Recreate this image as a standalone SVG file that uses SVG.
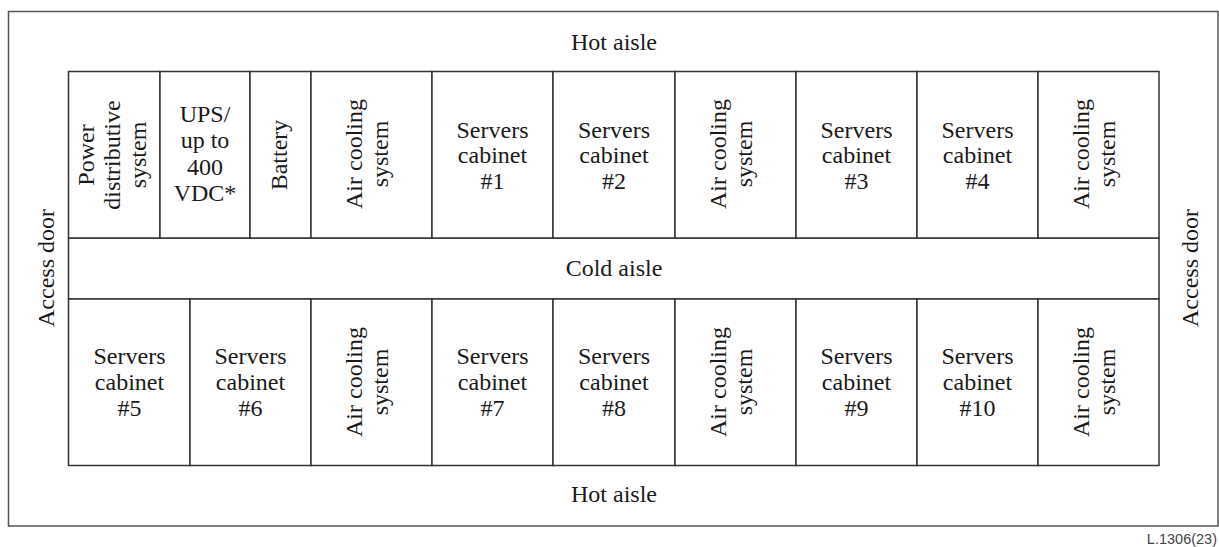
<svg xmlns="http://www.w3.org/2000/svg" width="1219" height="547" viewBox="0 0 1219 547">
<style>
.box{fill:#fff;stroke:#333;stroke-width:1.5}
.ln{stroke:#333;stroke-width:1.5;fill:none}
text{font-family:"Liberation Serif","Times New Roman",serif;font-size:24px;fill:#1a1a1a;text-anchor:middle}
.ref{font-family:"Liberation Sans",Arial,sans-serif;font-size:14.5px;fill:#444;text-anchor:end}
</style>
<rect width="1219" height="547" fill="#fff"/>
<g id="room">
<rect x="8.5" y="11.5" width="1209.5" height="514.5" fill="#fff" stroke="#555" stroke-width="1.5"/>
<text x="614" y="50">Hot aisle</text>
<text x="614" y="502">Hot aisle</text>
<text transform="translate(54,268) rotate(-90)">Access door</text>
<text transform="translate(1198,268) rotate(-90)">Access door</text>
</g>
<g id="cold-aisle">
<rect class="box" x="68.5" y="238" width="1090.5" height="61"/>
<text x="614" y="276">Cold aisle</text>
</g>
<g id="top-row">
<g id="power"><rect class="box" x="68.5" y="71.5" width="91.5" height="166.5"/>
<text transform="translate(93.5,155) rotate(-90)">Power</text>
<text transform="translate(119.5,155) rotate(-90)">distributive</text>
<text transform="translate(145.5,155) rotate(-90)">system</text></g>
<g id="ups"><rect class="box" x="160" y="71.5" width="90" height="166.5"/>
<text x="205" y="122">UPS/</text><text x="205" y="148">up to</text><text x="205" y="174.5">400</text><text x="205" y="201">VDC*</text></g>
<g id="battery"><rect class="box" x="250" y="71.5" width="61" height="166.5"/>
<text transform="translate(287,155) rotate(-90)">Battery</text></g>
<g id="air1"><rect class="box" x="311" y="71.5" width="121" height="166.5"/>
<text transform="translate(362,154) rotate(-90)">Air cooling</text>
<text transform="translate(388,154) rotate(-90)">system</text></g>
<g id="srv1"><rect class="box" x="432" y="71.5" width="121" height="166.5"/>
<text x="492.5" y="137.5">Servers</text><text x="492.5" y="163">cabinet</text><text x="492.5" y="188.5">#1</text></g>
<g id="srv2"><rect class="box" x="553" y="71.5" width="122" height="166.5"/>
<text x="614" y="137.5">Servers</text><text x="614" y="163">cabinet</text><text x="614" y="188.5">#2</text></g>
<g id="air2"><rect class="box" x="675" y="71.5" width="121" height="166.5"/>
<text transform="translate(726,154) rotate(-90)">Air cooling</text>
<text transform="translate(752,154) rotate(-90)">system</text></g>
<g id="srv3"><rect class="box" x="796" y="71.5" width="121" height="166.5"/>
<text x="856.5" y="137.5">Servers</text><text x="856.5" y="163">cabinet</text><text x="856.5" y="188.5">#3</text></g>
<g id="srv4"><rect class="box" x="917" y="71.5" width="121" height="166.5"/>
<text x="977.5" y="137.5">Servers</text><text x="977.5" y="163">cabinet</text><text x="977.5" y="188.5">#4</text></g>
<g id="air3"><rect class="box" x="1038" y="71.5" width="121" height="166.5"/>
<text transform="translate(1089,154) rotate(-90)">Air cooling</text>
<text transform="translate(1115,154) rotate(-90)">system</text></g>
</g>
<g id="bottom-row">
<g id="srv5"><rect class="box" x="68.5" y="299" width="121.5" height="166.5"/>
<text x="129.5" y="363.5">Servers</text><text x="129.5" y="389.5">cabinet</text><text x="129.5" y="415.5">#5</text></g>
<g id="srv6"><rect class="box" x="190" y="299" width="121" height="166.5"/>
<text x="250.5" y="363.5">Servers</text><text x="250.5" y="389.5">cabinet</text><text x="250.5" y="415.5">#6</text></g>
<g id="air4"><rect class="box" x="311" y="299" width="121" height="166.5"/>
<text transform="translate(362,382) rotate(-90)">Air cooling</text>
<text transform="translate(388,382) rotate(-90)">system</text></g>
<g id="srv7"><rect class="box" x="432" y="299" width="121" height="166.5"/>
<text x="492.5" y="363.5">Servers</text><text x="492.5" y="389.5">cabinet</text><text x="492.5" y="415.5">#7</text></g>
<g id="srv8"><rect class="box" x="553" y="299" width="122" height="166.5"/>
<text x="614" y="363.5">Servers</text><text x="614" y="389.5">cabinet</text><text x="614" y="415.5">#8</text></g>
<g id="air5"><rect class="box" x="675" y="299" width="121" height="166.5"/>
<text transform="translate(726,382) rotate(-90)">Air cooling</text>
<text transform="translate(752,382) rotate(-90)">system</text></g>
<g id="srv9"><rect class="box" x="796" y="299" width="121" height="166.5"/>
<text x="856.5" y="363.5">Servers</text><text x="856.5" y="389.5">cabinet</text><text x="856.5" y="415.5">#9</text></g>
<g id="srv10"><rect class="box" x="917" y="299" width="121" height="166.5"/>
<text x="977.5" y="363.5">Servers</text><text x="977.5" y="389.5">cabinet</text><text x="977.5" y="415.5">#10</text></g>
<g id="air6"><rect class="box" x="1038" y="299" width="121" height="166.5"/>
<text transform="translate(1089,382) rotate(-90)">Air cooling</text>
<text transform="translate(1115,382) rotate(-90)">system</text></g>
</g>
<g id="connectors"></g>
<text class="ref" x="1217" y="544">L.1306(23)</text>
</svg>
